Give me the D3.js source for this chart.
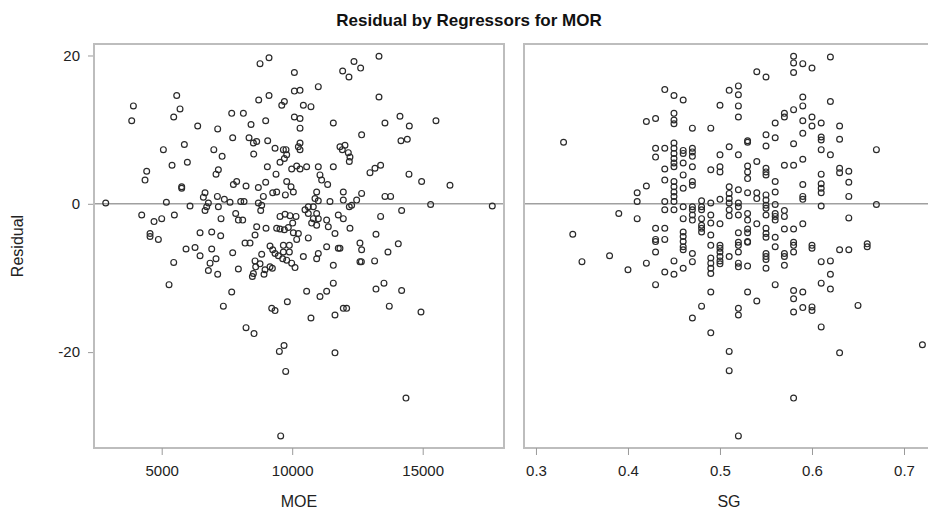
<!DOCTYPE html>
<html>
<head>
<meta charset="utf-8">
<script src="https://cdn.jsdelivr.net/npm/d3@7"></script>
<style>
  body { margin: 0; background: #fff; }
  svg { display: block; font-family: "Liberation Sans", Arial, sans-serif; }
</style>
</head>
<body>
<div id="chart"></div>
<script>
var width = 928;
var height = 515;

var title = "Residual by Regressors for MOR";
var yTicks = [-20, 0, 20];
var moeTicks = [5000, 10000, 15000];
var sgTicks = [0.3, 0.4, 0.5, 0.6, 0.7];

// [MOE, residual]
var moePoints = [
  [8767,18.9],[9112,19.7],[10083,17.7],[3915,13.2],[3851,11.2],[5575,14.6],[5702,12.8],[5460,11.7],
  [7682,12.2],[8129,12.2],[8716,14.0],[9112,14.6],[9600,13.3],[9700,13.8],[10083,15.2],[10300,15.3],
  [10427,13.3],[8422,10.7],[6379,10.5],[7145,10.1],[7720,8.9],[8346,8.9],[8512,8.2],[5064,7.3],
  [5868,8.0],[6996,7.3],[7315,6.4],[8525,6.7],[5983,5.6],[5396,5.2],[4425,4.4],[4361,3.2],
  [7171,4.6],[7081,4.0],[5766,2.3],[5766,2.1],[7746,2.6],[7873,3.0],[8231,2.4],[2855,0.1],
  [5179,0.2],[6085,-0.3],[6660,1.5],[6596,0.9],[6788,0.1],[6724,-0.4],[6660,-0.9],[7133,1.0],
  [7171,-0.4],[7400,0.6],[7618,0.2],[8027,0.3],[8155,0.3],[4234,-1.5],[4706,-2.4],[5000,-2.0],
  [5485,-1.5],[7273,-2.0],[7835,-1.3],[7937,-2.2],[8103,-2.2],[6469,-3.9],[6916,-3.8],[7260,-4.3],
  [4553,-4.0],[4553,-4.4],[4872,-4.8],[8193,-5.3],[8384,-5.3],
  [13325,19.9],[12367,19.2],[12622,18.3],[11933,17.9],[12175,17.1],[11000,15.8],[10719,13.1],[13325,14.4],
  [13554,10.9],[14129,11.8],[14487,10.5],[15508,11.2],[14167,8.5],[14410,8.7],[12980,4.2],[13171,4.8],
  [13388,5.2],[14474,4.0],[14959,3.0],[16045,2.5],[13554,1.0],[13771,1.0],[15304,-0.1],[17666,-0.3],
  [13388,-1.7],[14193,-0.9],[13210,-4.1],[14065,-5.4],
  [5932,-6.1],[6277,-5.9],[6469,-7.0],[5460,-7.9],[5281,-10.9],[6916,-6.1],[7081,-7.4],[6852,-8.0],
  [6788,-9.0],[7145,-9.5],[7720,-6.6],[7937,-8.8],[8512,-9.4],[8474,-9.8],[7682,-11.9],[7362,-13.8],
  [9342,-14.4],[8231,-16.7],[8537,-17.5],[9687,-19.1],[9508,-19.9],[9751,-22.6],[9559,-31.3],
  [13669,-6.5],[13158,-7.7],[13210,-11.5],[13516,-10.7],[14193,-11.7],[10719,-15.4],[11639,-15.0],
  [13720,-13.8],[14934,-14.6],[11639,-20.1],[14359,-26.2],
  [8984,11.2],[10083,11.7],[10300,11.5],[10300,10.2],[8640,8.4],[9061,8.5],[9342,7.5],[9661,7.3],
  [9763,7.3],[10236,7.7],[10300,7.3],[10300,8.2],[9048,5.0],[9380,4.0],[9533,5.6],[9700,6.1],
  [9789,6.6],[9980,4.7],[10172,5.1],[10300,4.7],[8703,2.2],[8984,2.9],[9253,1.5],[9406,1.6],
  [9738,1.2],[9789,3.0],[9955,2.3],[10044,1.6],[8703,0.1],[8831,-0.2],[8793,-0.9],[8895,1.0],
  [9533,-1.7],[9725,-1.4],[9917,-1.6],[10146,-1.7],[8640,-3.1],[8576,-4.2],[8997,-3.3],[9533,-3.4],
  [9700,-3.5],[10019,-2.6],[10044,-3.9],[10172,-4.8],[10236,-4.0],[9404,-3.3],[9851,-3.2],
  [9150,-5.7],[9253,-6.2],[9342,-6.7],[9470,-7.0],[9661,-5.6],[9891,-5.6],[9661,-6.5],[9891,-6.5],
  [9636,-7.4],[9789,-7.6],[9980,-8.0],[10108,-8.6],[10427,-7.1],[8831,-6.8],[8576,-7.7],[8767,-8.1],
  [8601,-8.5],[8959,-8.9],[8920,-9.5],[9150,-8.5],[9240,-8.7],[9814,-13.2],[9215,-14.1],
  [10553,5.0],[11000,5.0],[11575,5.0],[11064,3.9],[11128,3.2],[11358,2.6],[10937,1.6],[10873,0.7],
  [11000,0.4],[11447,0.3],[11958,0.5],[12277,-0.2],[12188,-0.4],[12469,0.5],[12660,1.4],[11958,1.6],
  [10490,-0.8],[10617,-0.4],[10809,-0.4],[10617,-1.3],[10937,-1.3],[10809,-2.0],[11000,-2.0],[10745,-2.6],
  [10937,-2.9],[11320,-2.2],[11383,-3.1],[11639,-4.0],[11766,-1.5],[11958,-2.0],[12213,-3.3],[10617,-4.6],
  [10937,-7.4],[11000,-6.7],[11320,-5.8],[11575,-8.3],[11766,-6.0],[11830,-6.0],[11575,-10.7],[11320,-11.8],
  [11064,-12.5],[10553,-11.8],[11958,-14.1],[12086,-14.1],[12596,-5.3],[12660,-6.2],[12596,-7.8],[12650,-7.8],
  [11575,10.9],[12660,9.3],[11830,7.7],[12022,7.9],[11920,7.3],[12150,6.9],[12213,6.3],[12188,5.7]
];

// [SG, residual]
var sgPoints = [
  [0.33,8.3],[0.34,-4.1],[0.35,-7.8],[0.38,-7.0],[0.39,-1.3],[0.40,-8.9],
  [0.41,1.5],[0.41,0.3],[0.41,-2.0],[0.42,11.1],[0.42,2.4],[0.42,-8.0],
  [0.43,11.5],[0.43,7.5],[0.43,6.3],[0.43,-3.3],[0.43,-4.8],[0.43,-5.1],[0.43,-6.5],[0.43,-10.9],
  [0.44,15.4],[0.44,7.5],[0.44,4.7],[0.44,3.2],[0.44,0.3],[0.44,-0.8],[0.44,-3.3],[0.44,-4.8],[0.44,-9.2],
  [0.45,14.6],[0.45,12.2],[0.45,11.3],[0.45,10.8],[0.45,8.2],[0.45,7.5],[0.45,6.8],[0.45,6.1],[0.45,5.5],
  [0.45,5.0],[0.45,3.0],[0.45,2.3],[0.45,1.6],[0.45,1.0],[0.45,0.3],[0.45,-0.8],[0.45,-7.7],[0.45,-9.5],
  [0.46,14.0],[0.46,7.2],[0.46,6.8],[0.46,5.5],[0.46,3.9],[0.46,2.1],[0.46,-0.4],[0.46,-2.0],[0.46,-3.8],
  [0.46,-4.4],[0.46,-5.1],[0.46,-5.8],[0.46,-6.2],[0.46,-8.7],
  [0.47,10.2],[0.47,7.5],[0.47,7.0],[0.47,6.4],[0.47,5.0],[0.47,3.0],[0.47,2.5],[0.47,-0.4],[0.47,-0.8],
  [0.47,-1.5],[0.47,-2.2],[0.47,-6.7],[0.47,-7.8],[0.47,-15.4],
  [0.48,0.4],[0.48,-0.4],[0.48,-0.8],[0.48,-2.0],[0.48,-2.9],[0.48,-3.3],[0.48,-3.8],[0.48,-13.8],
  [0.49,10.2],[0.49,4.6],[0.49,0.1],[0.49,-1.5],[0.49,-2.6],[0.49,-4.2],[0.49,-5.6],[0.49,-7.3],[0.49,-8.0],
  [0.49,-8.7],[0.49,-9.4],[0.49,-11.9],[0.49,-17.4],
  [0.50,13.3],[0.50,6.6],[0.50,5.0],[0.50,4.3],[0.50,0.6],[0.50,-2.7],[0.50,-5.6],[0.50,-6.0],[0.50,-6.5],
  [0.50,-7.1],[0.50,-7.7],[0.50,-8.1],
  [0.51,15.3],[0.51,7.7],[0.51,2.3],[0.51,1.4],[0.51,0.7],[0.51,0.1],[0.51,-0.8],[0.51,-1.6],[0.51,-7.1],
  [0.51,-19.9],[0.51,-22.5],
  [0.52,15.9],[0.52,14.7],[0.52,13.2],[0.52,11.7],[0.52,6.6],[0.52,1.9],[0.52,0.1],[0.52,-0.4],[0.52,-1.5],
  [0.52,-3.9],[0.52,-5.2],[0.52,-5.6],[0.52,-6.5],[0.52,-8.0],[0.52,-8.5],[0.52,-14.1],[0.52,-15.0],[0.52,-31.3],
  [0.53,8.5],[0.53,8.3],[0.53,5.1],[0.53,4.3],[0.53,3.4],[0.53,1.5],[0.53,-1.3],[0.53,-2.2],[0.53,-3.4],
  [0.53,-3.9],[0.53,-5.1],[0.53,-5.2],[0.53,-8.4],[0.53,-11.9],
  [0.54,17.8],[0.54,5.7],[0.54,1.5],[0.54,0.7],[0.54,-2.7],[0.54,-13.1],
  [0.55,17.1],[0.55,9.3],[0.55,7.8],[0.55,4.8],[0.55,4.3],[0.55,3.9],[0.55,1.2],[0.55,0.5],[0.55,-0.2],
  [0.55,-0.6],[0.55,-1.5],[0.55,-3.3],[0.55,-4.0],[0.55,-4.5],[0.55,-6.7],[0.55,-7.1],[0.55,-7.5],[0.55,-8.7],
  [0.56,10.9],[0.56,8.9],[0.56,3.0],[0.56,1.6],[0.56,-0.1],[0.56,-1.3],[0.56,-1.7],[0.56,-2.2],[0.56,-4.5],
  [0.56,-5.8],[0.56,-10.9],
  [0.57,12.2],[0.57,11.7],[0.57,5.2],[0.57,-0.9],[0.57,-1.7],[0.57,-3.4],[0.57,-6.7],[0.57,-7.1],[0.57,-8.3],
  [0.58,19.9],[0.58,19.0],[0.58,17.7],[0.58,12.7],[0.58,8.1],[0.58,5.2],[0.58,-3.4],[0.58,-5.2],[0.58,-5.6],
  [0.58,-6.5],[0.58,-11.7],[0.58,-12.8],[0.58,-14.6],[0.58,-26.2],
  [0.59,18.9],[0.59,14.4],[0.59,13.2],[0.59,11.2],[0.59,9.5],[0.59,6.0],[0.59,2.6],[0.59,1.0],[0.59,0.6],
  [0.59,-2.7],[0.59,-11.9],[0.59,-14.0],
  [0.60,18.3],[0.60,11.7],[0.60,10.5],[0.60,-5.6],[0.60,-6.0],[0.60,-13.9],[0.60,-14.4],
  [0.61,10.9],[0.61,9.0],[0.61,8.6],[0.61,7.3],[0.61,4.0],[0.61,2.7],[0.61,2.1],[0.61,1.5],[0.61,-0.3],
  [0.61,-7.8],[0.61,-10.7],[0.61,-16.6],
  [0.62,19.8],[0.62,13.8],[0.62,6.6],[0.62,-7.7],[0.62,-9.5],[0.62,-11.5],
  [0.63,10.5],[0.63,8.7],[0.63,4.8],[0.63,4.2],[0.63,-6.2],[0.63,-20.1],
  [0.64,4.4],[0.64,2.9],[0.64,1.0],[0.64,-1.9],[0.64,-6.2],
  [0.65,-13.7],[0.66,-5.4],[0.66,-5.8],[0.67,7.3],[0.67,-0.1],[0.72,-19.0]
];

var plotTop = 44, plotBottom = 448;
var panels = [
  { left: 94, right: 504, domain: [2406, 18115], ticks: moeTicks, fmt: function(d) { return String(d); }, label: "MOE", data: moePoints },
  { left: 524, right: 934, domain: [0.287, 0.7326], ticks: sgTicks, fmt: function(d) { return d.toFixed(1); }, label: "SG", data: sgPoints }
];

var svg = d3.select("#chart").append("svg")
  .attr("width", width)
  .attr("height", height);

var yScale = d3.scaleLinear().domain([-32.93, 21.55]).range([plotBottom, plotTop]);

svg.append("text")
  .attr("x", 469)
  .attr("y", 26)
  .attr("text-anchor", "middle")
  .style("font-size", "17px")
  .style("font-weight", "bold")
  .attr("fill", "#111")
  .text(title);

svg.append("text")
  .attr("transform", "translate(23," + ((plotTop + plotBottom) / 2) + ") rotate(-90)")
  .attr("text-anchor", "middle")
  .style("font-size", "16px")
  .attr("fill", "#222")
  .text("Residual");

// y axis on the left panel only; plain hyphen for negatives like the source
var yAxis = svg.append("g")
  .attr("transform", "translate(94,0)")
  .call(d3.axisLeft(yScale).tickValues(yTicks).tickFormat(function(d) { return String(d); })
    .tickSize(6).tickPadding(8));
yAxis.select(".domain").remove();
yAxis.selectAll("line").attr("stroke", "#9a9a9a");
yAxis.selectAll("text").style("font-size", "15px").attr("fill", "#222");

panels.forEach(function(p) {
  var xScale = d3.scaleLinear().domain(p.domain).range([p.left, p.right]);

  var g = svg.append("g");

  g.append("line")
    .attr("x1", p.left).attr("x2", p.right)
    .attr("y1", yScale(0)).attr("y2", yScale(0))
    .attr("stroke", "#a0a0a0")
    .attr("stroke-width", 1.5);

  g.selectAll("circle")
    .data(p.data)
    .enter()
    .append("circle")
    .attr("cx", function(d) { return xScale(d[0]); })
    .attr("cy", function(d) { return yScale(d[1]); })
    .attr("r", 2.9)
    .attr("fill", "none")
    .attr("stroke", "#2a2a2a")
    .attr("stroke-width", 1.2);

  g.append("rect")
    .attr("x", p.left).attr("y", plotTop)
    .attr("width", p.right - p.left)
    .attr("height", plotBottom - plotTop)
    .attr("fill", "none")
    .attr("stroke", "#bdbdbd")
    .attr("stroke-width", 2);

  var xAxis = svg.append("g")
    .attr("transform", "translate(0," + plotBottom + ")")
    .call(d3.axisBottom(xScale).tickValues(p.ticks).tickFormat(p.fmt).tickSize(7).tickPadding(10));
  xAxis.select(".domain").remove();
  xAxis.selectAll("line").attr("stroke", "#9a9a9a");
  xAxis.selectAll("text").style("font-size", "15px").attr("fill", "#222");

  svg.append("text")
    .attr("x", (p.left + p.right) / 2)
    .attr("y", 507)
    .attr("text-anchor", "middle")
    .style("font-size", "16px")
    .attr("fill", "#222")
    .text(p.label);
});
</script>
</body>
</html>
